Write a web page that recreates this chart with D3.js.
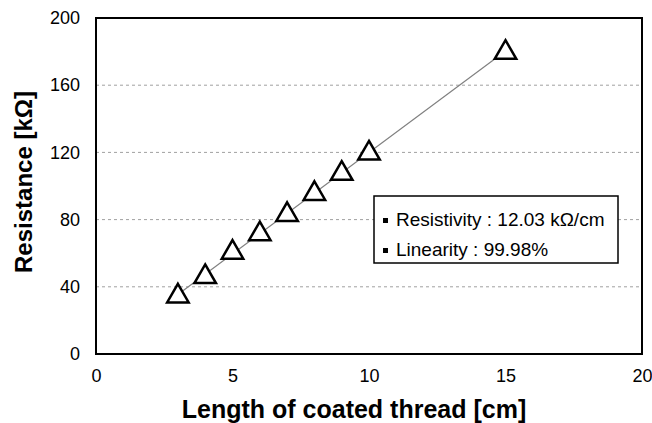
<!DOCTYPE html>
<html>
<head>
<meta charset="utf-8">
<script src="https://d3js.org/d3.v7.min.js"></script>
<style>
body { margin:0; background:#fff; overflow:hidden; }
svg { display:block; }
text { font-family: "Liberation Sans", Arial, sans-serif; }
</style>
</head>
<body>
<svg id="chart"></svg>
<script>
// data
var lengths = [3, 4, 5, 6, 7, 8, 9, 10, 15];
var resist  = [35, 46.5, 61, 72, 83.5, 96, 108, 120, 180];
var xTicks = [0, 5, 10, 15, 20];
var yTicks = [0, 40, 80, 120, 160, 200];
var gridVals = [40, 80, 120, 160];
var notes = ["Resistivity : 12.03 k\u03a9/cm", "Linearity : 99.98%"];

var W = 652, H = 423;
var pLeft = 96, pRight = 642, pTop = 18, pBottom = 354;

var svg = d3.select('#chart').attr('width', W).attr('height', H);

var x = d3.scaleLinear().domain([0, 20]).range([pLeft, pRight]);
var y = d3.scaleLinear().domain([0, 200]).range([pBottom, pTop]);

// dashed grid
svg.selectAll('.grid')
  .data(gridVals)
  .enter().append('line')
  .attr('x1', pLeft).attr('x2', pRight)
  .attr('y1', function(d) { return y(d); })
  .attr('y2', function(d) { return y(d); })
  .attr('stroke', '#a0a0a0')
  .attr('stroke-width', 1)
  .attr('stroke-dasharray', '3,3');

// frame
svg.append('rect')
  .attr('x', pLeft).attr('y', pTop)
  .attr('width', pRight - pLeft).attr('height', pBottom - pTop)
  .attr('fill', 'none').attr('stroke', '#000').attr('stroke-width', 2);

// axes (labels only)
var xAxis = svg.append('g')
  .attr('transform', 'translate(0,' + pBottom + ')')
  .call(d3.axisBottom(x).tickValues(xTicks).tickSize(0).tickPadding(15));
var yAxis = svg.append('g')
  .attr('transform', 'translate(' + pLeft + ',0)')
  .call(d3.axisLeft(y).tickValues(yTicks).tickSize(0).tickPadding(16));
[xAxis, yAxis].forEach(function(g) {
  g.select('.domain').remove();
  g.selectAll('text')
    .attr('font-family', '"Liberation Sans", Arial, sans-serif')
    .attr('font-size', 18).attr('fill', '#000');
});

// linear fit trendline
var n = lengths.length;
var mx = d3.mean(lengths), my = d3.mean(resist);
var sxy = 0, sxx = 0;
for (var i = 0; i < n; i++) {
  sxy += (lengths[i] - mx) * (resist[i] - my);
  sxx += (lengths[i] - mx) * (lengths[i] - mx);
}
var slope = sxy / sxx, icpt = my - slope * mx;
var x0 = d3.min(lengths), x1 = d3.max(lengths);
svg.append('line')
  .attr('x1', x(x0)).attr('y1', y(icpt + slope * x0))
  .attr('x2', x(x1)).attr('y2', y(icpt + slope * x1))
  .attr('stroke', '#808080').attr('stroke-width', 1.2);

// triangle markers
var tri = d3.symbol().type(d3.symbolTriangle).size(200);
svg.selectAll('.pt')
  .data(lengths)
  .enter().append('path')
  .attr('class', 'pt')
  .attr('d', tri)
  .attr('transform', function(d, i) { return 'translate(' + x(d) + ',' + (y(resist[i]) + 1) + ')'; })
  .attr('fill', '#fff')
  .attr('stroke', '#000')
  .attr('stroke-width', 2.5)
  .attr('stroke-linejoin', 'miter');

// annotation box
var box = svg.append('g').attr('transform', 'translate(374,196)');
box.append('rect')
  .attr('width', 244).attr('height', 67)
  .attr('fill', '#fff').attr('stroke', '#000').attr('stroke-width', 1.5);
notes.forEach(function(t, i) {
  box.append('rect')
    .attr('x', 9).attr('y', 22 + i * 30)
    .attr('width', 5).attr('height', 5).attr('fill', '#000');
  box.append('text')
    .attr('x', 22).attr('y', 30 + i * 30)
    .attr('font-size', 19)
    .text(t);
});

// axis titles
svg.append('text')
  .attr('x', 354).attr('y', 418)
  .attr('text-anchor', 'middle')
  .attr('font-size', 25).attr('font-weight', 'bold')
  .text('Length of coated thread [cm]');

svg.append('text')
  .attr('transform', 'translate(32,182) rotate(-90)')
  .attr('text-anchor', 'middle')
  .attr('font-size', 24).attr('font-weight', 'bold')
  .text('Resistance [k\u03a9]');
</script>
</body>
</html>
